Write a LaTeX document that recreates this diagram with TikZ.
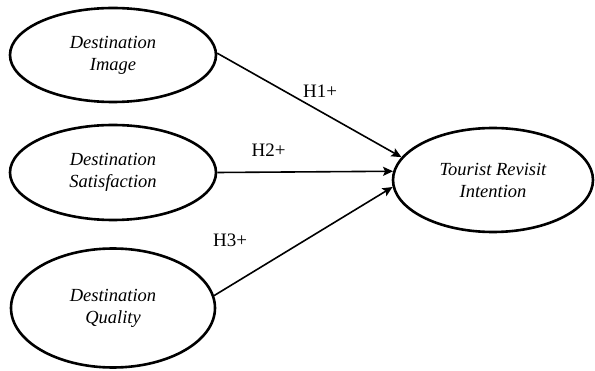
\documentclass[tikz,border=0pt]{standalone}
\usepackage{fontspec}
\setmainfont{Liberation Serif}
\usetikzlibrary{arrows.meta,shapes.geometric}
\begin{document}
\begin{tikzpicture}[x=1pt,y=1pt,
  construct/.style={ellipse, draw, line width=2.6pt, inner sep=0pt,
     align=center, font=\fontsize{18.5}{22}\selectfont\itshape},
  path/.style={line width=1.6pt, -{Stealth[length=10pt,width=9pt,inset=2pt]}},
  hyp/.style={anchor=base, font=\fontsize{19}{22}\selectfont}]
\useasboundingbox (0,0) rectangle (595,370);
\node[construct, minimum width=206pt, minimum height=94pt] (img) at (113,315) {Destination\\Image};
\node[construct, minimum width=206pt, minimum height=95pt] (sat) at (113,197.5) {Destination\\Satisfaction};
\node[construct, minimum width=204pt, minimum height=119pt] (qual) at (113,62) {Destination\\Quality};
\node[construct, minimum width=200pt, minimum height=104pt] (tri) at (493,190) {Tourist Revisit\\Intention};
\draw[path] (img.1) -- (tri.166);
\draw[path] (sat.east) -- (tri.175.5);
\draw[path] (qual.7) -- (tri.184);
\node[hyp] (h1) at (320,272) {H1+};
\node[hyp] (h2) at (268.5,213) {H2+};
\node[hyp] (h3) at (230,123) {H3+};
\end{tikzpicture}
\end{document}
